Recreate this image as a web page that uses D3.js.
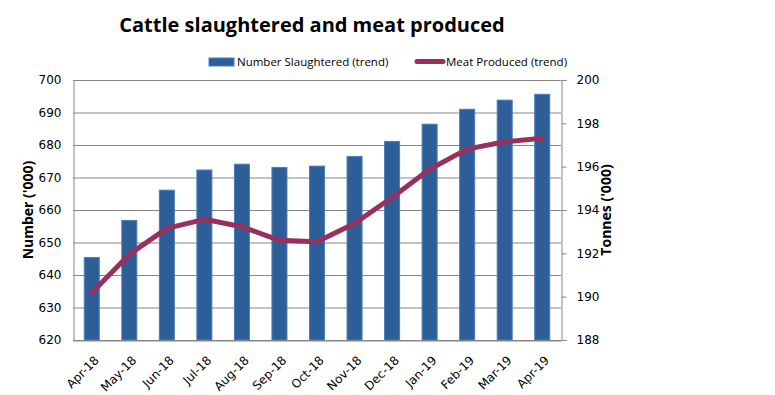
<!DOCTYPE html>
<html><head><meta charset="utf-8">
<script src="https://cdn.jsdelivr.net/npm/d3@7"></script>
<style>body{margin:0;background:#fff}svg{display:block}text{font-family:Lato,"Open Sans",sans-serif}</style>
</head><body>
<script>
const months = ["Apr-18","May-18","Jun-18","Jul-18","Aug-18","Sep-18","Oct-18","Nov-18","Dec-18","Jan-19","Feb-19","Mar-19","Apr-19"];
const numberSlaughtered = [645.4,656.8,666.1,672.3,674.1,673.1,673.5,676.5,681.1,686.4,691.0,693.8,695.6];
const meatProduced = [190.18,191.95,193.15,193.57,193.23,192.6,192.54,193.38,194.58,195.88,196.81,197.15,197.31];
const leftTicks = [620,630,640,650,660,670,680,690,700];
const rightTicks = [188,190,192,194,196,198,200];

const W=775,H=395;
const m={left:73,right:561,top:80,bottom:340};
const svg=d3.select("body").append("svg").attr("width",W).attr("height",H);

const x=d3.scaleBand().domain(months).range([m.left,m.right]).paddingInner(0.6).paddingOuter(0.3);
const yL=d3.scaleLinear().domain([620,700]).range([m.bottom,m.top]);
const yR=d3.scaleLinear().domain([188,200]).range([m.bottom,m.top]);

// gridlines
svg.append("g").selectAll("line").data(leftTicks).join("line")
  .attr("x1",m.left).attr("x2",m.right).attr("y1",d=>yL(d)+0.5).attr("y2",d=>yL(d)+0.5)
  .attr("stroke","#868686").attr("stroke-width",1);

// bars
svg.append("g").selectAll("rect").data(numberSlaughtered).join("rect")
  .attr("x",(d,i)=>x(months[i])).attr("width",x.bandwidth())
  .attr("y",d=>yL(d)).attr("height",d=>yL(620)-yL(d))
  .attr("fill","#2E5E97").attr("stroke","#4A7EBB").attr("stroke-width",1);

// axes
const axL=svg.append("g").attr("transform",`translate(${m.left+0.5},0)`)
  .call(d3.axisLeft(yL).tickValues(leftTicks).tickSize(0).tickPadding(12));
const axR=svg.append("g").attr("transform",`translate(${m.right+0.5},0)`)
  .call(d3.axisRight(yR).tickValues(rightTicks).tickSize(5).tickPadding(10));
const axB=svg.append("g").attr("transform",`translate(0,${m.bottom+0.5})`)
  .call(d3.axisBottom(x).tickSize(0).tickPadding(8));
[axL,axR,axB].forEach(a=>{
  a.select(".domain").attr("stroke","#868686");
  a.selectAll(".tick line").attr("stroke","#868686");
  a.selectAll("text").attr("fill","#000").style("font-family","Verdana, 'DejaVu Sans', sans-serif").style("font-size","12px");
});
axB.selectAll("text").style("font-size","12px").attr("text-anchor","end")
  .attr("dx","-9").attr("dy","12").attr("transform","rotate(-45)");

// line
svg.append("path").datum(meatProduced)
  .attr("d",d3.line().x((d,i)=>x(months[i])+x.bandwidth()/2).y(d=>yR(d)))
  .attr("fill","none").attr("stroke","#97305F").attr("stroke-width",5)
  .attr("stroke-linejoin","round").attr("stroke-linecap","round");

// title
svg.append("text").attr("x",312).attr("y",32).attr("text-anchor","middle")
  .style("font-size","20px").style("font-weight","bold").style("font-family","'Open Sans',sans-serif")
  .text("Cattle slaughtered and meat produced");

// axis titles
svg.append("text").attr("transform","translate(33,210) rotate(-90)").attr("text-anchor","middle")
  .style("font-size","14px").style("font-weight","bold").style("font-family","'Open Sans',sans-serif").text("Number ('000)");
svg.append("text").attr("transform","translate(611,210) rotate(-90)").attr("text-anchor","middle")
  .style("font-size","14px").style("font-weight","bold").style("font-family","'Open Sans',sans-serif").text("Tonnes ('000)");

// legend
const lg=svg.append("g");
lg.append("rect").attr("x",209).attr("y",58).attr("width",25).attr("height",8).attr("fill","#2E5E97").attr("stroke","#4A7EBB");
lg.append("text").attr("x",237).attr("y",66).style("font-size","11.5px").style("font-family","'Open Sans',sans-serif").text("Number Slaughtered (trend)");
lg.append("line").attr("x1",417).attr("x2",443).attr("y1",61.5).attr("y2",61.5).attr("stroke","#97305F").attr("stroke-width",5).attr("stroke-linecap","round");
lg.append("text").attr("x",446).attr("y",66).style("font-size","11.5px").style("font-family","'Open Sans',sans-serif").text("Meat Produced (trend)");
</script>
</body></html>
